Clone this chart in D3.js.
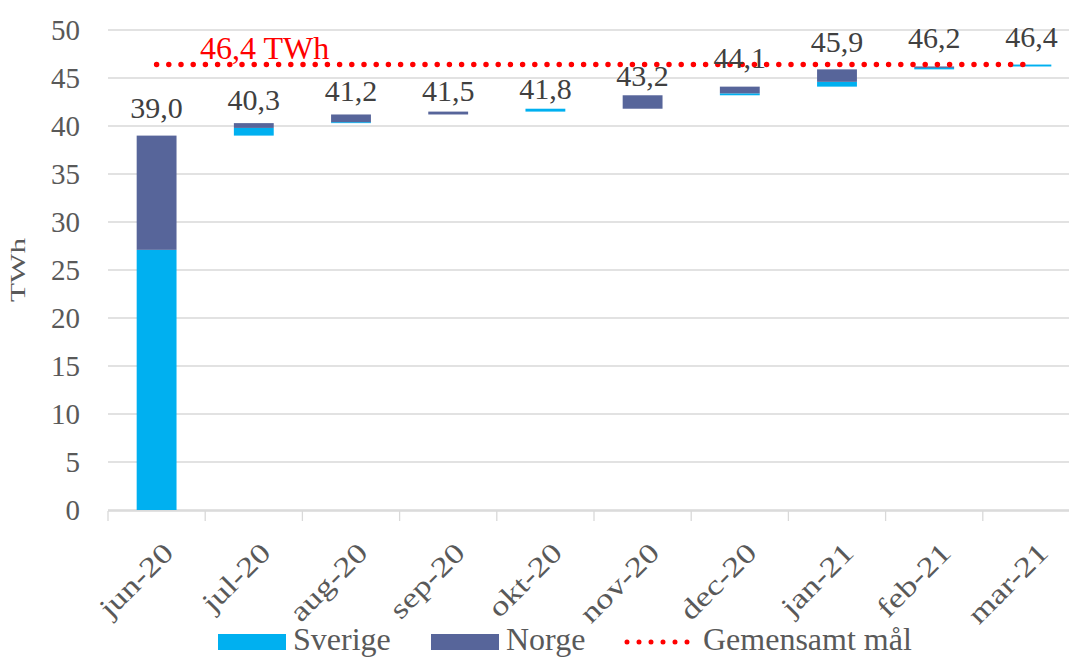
<!DOCTYPE html>
<html><head><meta charset="utf-8">
<script src="https://cdn.jsdelivr.net/npm/d3@7"></script>
<style>html,body{margin:0;padding:0;background:#fff;overflow:hidden}</style>
</head><body><svg id="c" width="1069" height="657"></svg>
<script>
const months = ["jun-20","jul-20","aug-20","sep-20","okt-20","nov-20","dec-20","jan-21","feb-21","mar-21"];
const totals = [39.0, 40.3, 41.2, 41.5, 41.8, 43.2, 44.1, 45.9, 46.2, 46.4];
const sverige = [27.1, 0.8, 0.1, 0, 0.3, 0, 0.2, 0.5, 0.15, 0.2];
const norge = [11.9, 0.5, 0.8, 0.3, 0, 1.4, 0.7, 1.3, 0.15, 0];
const target = 46.4;
const yTicks = [0,5,10,15,20,25,30,35,40,45,50];

// label placement (style, px above the bar end)
const labelLift = [18, 13, 13, 11, 10, 9, 19, 17, 18, 18];

const svg = d3.select("#c");
const font = "'Liberation Serif','Times New Roman',serif";
const x = d3.scaleBand().domain(months).range([108, 1080]).paddingInner(0.59).paddingOuter(0.295);
const xb = d3.scaleBand().domain(months).range([108, 1080]);
const y = d3.scaleLinear().domain([0, 50]).range([510, 30]);
const fmt = v => d3.format(".1f")(v).replace(".", ",");

// grid
svg.append("g").selectAll("line").data(yTicks).join("line")
  .attr("x1", 108).attr("x2", 1080).attr("y1", d => y(d)).attr("y2", d => y(d))
  .attr("stroke", "#d9d9d9").attr("stroke-width", 1.3);
// y tick labels
svg.append("g").selectAll("text").data(yTicks).join("text")
  .attr("x", 80).attr("y", d => y(d)).attr("dy", "0.35em").attr("text-anchor", "end")
  .attr("font-family", font).attr("font-size", 29).attr("fill", "#595959").text(d => d);
// y title
svg.append("text").attr("transform", "translate(25,270) rotate(-90)").attr("text-anchor", "middle")
  .attr("font-family", font).attr("font-size", 20).attr("fill", "#595959")
  .attr("textLength", 64).attr("lengthAdjust", "spacingAndGlyphs").text("TWh");

// bars (waterfall: each month starts at previous total)
const base = totals.map((t, i) => i === 0 ? 0 : totals[i-1]);
const g = svg.append("g");
g.selectAll("rect.sv").data(months).join("rect").attr("class","sv")
  .attr("x", d => x(d)).attr("width", x.bandwidth())
  .attr("y", (d,i) => y(base[i] + sverige[i])).attr("height", (d,i) => y(base[i]) - y(base[i] + sverige[i]))
  .attr("fill", "#00b0f0");
g.selectAll("rect.no").data(months).join("rect").attr("class","no")
  .attr("x", d => x(d)).attr("width", x.bandwidth())
  .attr("y", (d,i) => y(base[i] + sverige[i] + norge[i])).attr("height", (d,i) => y(base[i] + sverige[i]) - y(base[i] + sverige[i] + norge[i]))
  .attr("fill", "#57659a");

// x axis
svg.append("line").attr("x1", 108).attr("x2", 1080).attr("y1", 511).attr("y2", 511).attr("stroke", "#d9d9d9").attr("stroke-width", 1.3);
svg.append("g").selectAll("line").data(months).join("line")
  .attr("x1", d => xb(d)).attr("x2", d => xb(d)).attr("y1", 511).attr("y2", 521)
  .attr("stroke", "#d9d9d9").attr("stroke-width", 1.3);
svg.append("g").selectAll("text").data(months).join("text")
  .attr("transform", d => `translate(${xb(d) + xb.bandwidth()/2 + 5},${541}) rotate(-45)`)
  .attr("text-anchor", "end").attr("dy", "0.68em")
  .attr("font-family", font).attr("font-size", 28).attr("fill", "#595959").text(d => d)
  .each(function() { const L = this.getComputedTextLength(); d3.select(this).attr("textLength", L * 1.25).attr("lengthAdjust", "spacingAndGlyphs"); });

// target line
svg.append("line").attr("x1", x(months[0]) + x.bandwidth()/2).attr("x2", x(months[9]) + x.bandwidth()/2 - 2)
  .attr("y1", y(target)).attr("y2", y(target))
  .attr("stroke", "#ff0000").attr("stroke-width", 5.5).attr("stroke-linecap", "round").attr("stroke-dasharray", "0 12.2");
svg.append("text").attr("x", 200).attr("y", 59).attr("font-family", font).attr("font-size", 32).attr("fill", "#ff0000")
  .text(fmt(target) + " TWh");

// value labels
svg.append("g").selectAll("text").data(months).join("text")
  .attr("x", d => x(d) + x.bandwidth()/2).attr("y", (d,i) => y(totals[i]) - labelLift[i])
  .attr("text-anchor", "middle").attr("font-family", font).attr("font-size", 30).attr("fill", "#404040")
  .text((d,i) => fmt(totals[i]));

// legend
const lg = svg.append("g");
lg.append("rect").attr("x", 218).attr("y", 634).attr("width", 68).attr("height", 16).attr("fill", "#00b0f0");
lg.append("text").attr("x", 293).attr("y", 650).attr("font-family", font).attr("font-size", 32).attr("fill", "#595959").text("Sverige");
lg.append("rect").attr("x", 431).attr("y", 634).attr("width", 68).attr("height", 16).attr("fill", "#57659a");
lg.append("text").attr("x", 506).attr("y", 650).attr("font-family", font).attr("font-size", 32).attr("fill", "#595959").text("Norge");
lg.append("line").attr("x1", 627).attr("x2", 693).attr("y1", 642).attr("y2", 642)
  .attr("stroke", "#ff0000").attr("stroke-width", 5).attr("stroke-linecap", "round").attr("stroke-dasharray", "0 12");
lg.append("text").attr("x", 703).attr("y", 650).attr("font-family", font).attr("font-size", 32).attr("fill", "#595959").text("Gemensamt mål");
</script></body></html>
